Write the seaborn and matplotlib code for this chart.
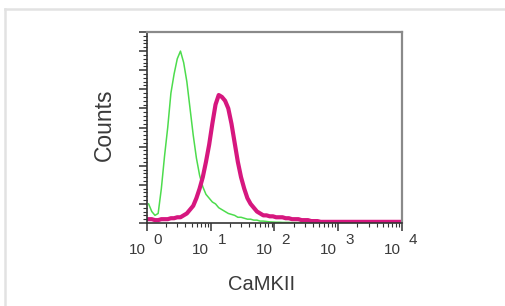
import numpy as np
import pandas as pd
import seaborn as sns
import matplotlib.pyplot as plt
from matplotlib.lines import Line2D
from matplotlib.ticker import LogLocator, MultipleLocator, NullFormatter

# histogram channels, 0.05 decade wide, counts scaled so the frame top is 100
bin_width = 0.05
isotype = [10, 6, 4, 5, 18, 35, 50, 68, 78, 86,
           90, 84, 74, 60, 46, 34, 25, 19, 15, 13,
           11, 10, 8, 7, 6, 5, 4.5, 4, 3, 3,
           2.5, 2, 2, 1.5, 1.5, 1, 1, 0.8, 0.6, 0.5,
           0.4, 0.4, 0.3, 0.3, 0.3, 0.2, 0.2, 0.2, 0.2, 0.2,
           0.2, 0.2, 0.2, 0.2, 0.2, 0.2, 0.2, 0.2, 0.2, 0.2,
           0.2, 0.2, 0.2, 0.2, 0.2, 0.2, 0.2, 0.2, 0.2, 0.2,
           0.2, 0.2, 0.2, 0.2, 0.2, 0.2, 0.2, 0.2, 0.2, 0.2]
camkii = [2, 2, 1.5, 1.5, 2, 2, 2, 2.5, 2.5, 3,
          3, 4, 5, 7, 9, 13, 18, 24, 32, 41,
          52, 62, 67, 66, 64, 60, 52, 42, 32, 24,
          18, 13, 10, 8, 6, 5, 4, 4, 3.5, 3.5,
          3, 3, 3, 2.5, 2.5, 2, 2, 2, 1.5, 1.5,
          1.5, 1, 1, 1, 0.6, 0.6, 0.6, 0.6, 0.6, 0.6,
          0.6, 0.6, 0.6, 0.6, 0.6, 0.6, 0.6, 0.6, 0.6, 0.6,
          0.6, 0.6, 0.6, 0.6, 0.6, 0.6, 0.6, 0.6, 0.6, 0.6]
decades = [0, 1, 2, 3, 4]

centers = 10 ** (bin_width / 2 + bin_width * np.arange(len(camkii)))
df = pd.DataFrame({"x": centers, "isotype": isotype, "camkii": camkii})

plt.rcParams["font.family"] = ["Liberation Sans", "DejaVu Sans"]
text_color = "#3a3a3a"

fig = plt.figure(figsize=(5.06, 3.06), dpi=100)
# light frame of the figure panel (top and left edges only are in view)
frame = "#e2e2e2"
fig.add_artist(Line2D([5.5 / 506, 1.0], [1 - 8.5 / 306] * 2, color=frame,
                      linewidth=1.8, transform=fig.transFigure))
fig.add_artist(Line2D([5.5 / 506] * 2, [0.0, 1 - 8.5 / 306], color=frame,
                      linewidth=1.8, transform=fig.transFigure))

ax = fig.add_axes([147 / 506, 1 - 223 / 306, 255 / 506, 191 / 306])

sns.lineplot(data=df, x="x", y="isotype", ax=ax, color="#4ddc4d",
             linewidth=1.1)
sns.lineplot(data=df, x="x", y="camkii", ax=ax, color="#d6177f",
             linewidth=3.0)

ax.set_xscale("log")
ax.set_xlim(1, 1e4)
ax.set_ylim(0, 100)
ax.set_xlabel("")
ax.set_ylabel("")

ax.xaxis.set_major_locator(LogLocator(base=10))
ax.xaxis.set_minor_locator(LogLocator(base=10, subs=np.arange(2, 10)))
ax.xaxis.set_major_formatter(NullFormatter())
ax.xaxis.set_minor_formatter(NullFormatter())
ax.yaxis.set_major_locator(MultipleLocator(10))
ax.yaxis.set_minor_locator(MultipleLocator(2))
ax.yaxis.set_major_formatter(NullFormatter())
ax.tick_params(axis="both", which="major", length=6, width=1.1, color="#333333")
ax.tick_params(axis="both", which="minor", length=3, width=0.8, color="#333333")
ax.tick_params(top=False, right=False)

for side in ["left", "bottom"]:
    ax.spines[side].set_color("#333333")
    ax.spines[side].set_linewidth(1.2)
for side in ["top", "right"]:
    ax.spines[side].set_color("#8a8a8a")
    ax.spines[side].set_linewidth(1.6)

for d in decades:
    ax.annotate("10", xy=(10 ** d, 0), xycoords=("data", "axes fraction"),
                xytext=(-10, -27), textcoords="offset pixels",
                ha="center", va="center", fontsize=11, color=text_color)
    ax.annotate(str(d), xy=(10 ** d, 0), xycoords=("data", "axes fraction"),
                xytext=(11, -17), textcoords="offset pixels",
                ha="center", va="center", fontsize=11, color=text_color)

fig.text(104 / 506, 1 - 125 / 306, "Counts", rotation=90, ha="center",
         va="center", fontsize=16.5, color=text_color)
fig.text(262 / 506, 1 - 284 / 306, "CaMKII", ha="center", va="center",
         fontsize=14.5, color=text_color)

fig.savefig("out.png", dpi=100)
